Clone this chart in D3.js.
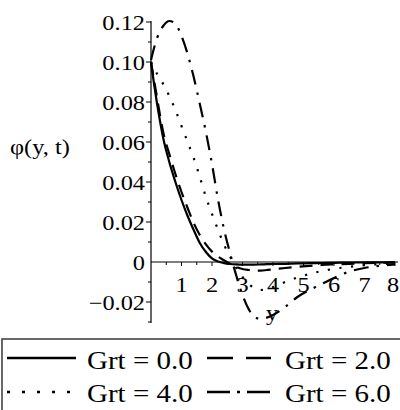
<!DOCTYPE html>
<html><head><meta charset="utf-8">
<script src="https://cdn.jsdelivr.net/npm/d3@7/dist/d3.min.js"></script>
<style>html,body{margin:0;padding:0;background:#fff;}svg{display:block;}</style>
</head><body>
<svg id="c" width="400" height="410"></svg>
<script>
const xs = [0,0.1,0.2,0.3,0.4,0.6,0.8,1.0,1.2,1.4,1.6,1.8,2.0,2.2,2.4,2.6,2.8,3.0,3.2,3.4,3.6,3.8,4.0,4.4,4.8,5.2,5.6,6.0,6.5,7.0,7.5,8.0];
const grt0 = [0.1,0.089,0.079,0.07,0.062,0.05,0.04,0.031,0.023,0.016,0.0095,0.005,0.0018,0.0002,-0.0006,-0.001,-0.0012,-0.0013,-0.0013,-0.0013,-0.0012,-0.0011,-0.001,-0.0009,-0.0007,-0.0006,-0.0005,-0.0004,-0.0003,-0.0002,-0.0002,-0.0001];
const grt2 = [0.1,0.091,0.082,0.073,0.065,0.054,0.044,0.035,0.027,0.0195,0.0135,0.0088,0.0052,0.0027,0.0008,-0.001,-0.0025,-0.0035,-0.004,-0.0043,-0.0043,-0.004,-0.0037,-0.003,-0.0024,-0.0019,-0.0015,-0.0012,-0.0009,-0.0006,-0.0004,-0.0003];
const grt4 = [0.1,0.097,0.094,0.0915,0.089,0.083,0.076,0.068,0.06,0.052,0.0425,0.0325,0.024,0.016,0.0085,0.0025,-0.003,-0.0075,-0.011,-0.013,-0.014,-0.0135,-0.0125,-0.01,-0.0078,-0.006,-0.0045,-0.0034,-0.0024,-0.0016,-0.0011,-0.0007];
const grt6 = [0.101,0.107,0.112,0.1155,0.118,0.1205,0.119,0.113,0.104,0.0925,0.079,0.065,0.049,0.031,0.016,0.004,-0.007,-0.0165,-0.0235,-0.0275,-0.0285,-0.0278,-0.0265,-0.0225,-0.0175,-0.014,-0.011,-0.008,-0.0048,-0.003,-0.0019,-0.0012];
const legendLabels = ["Grt = 0.0","Grt = 2.0","Grt = 4.0","Grt = 6.0"];
const xTicks = [1,2,3,4,5,6,7,8];
const yTicks = [-0.02,0,0.02,0.04,0.06,0.08,0.10,0.12];
const yTickLabels = ["\u22120.02","0","0.02","0.04","0.06","0.08","0.10","0.12"];

const svg = d3.select("#c");
const FONT = "'Liberation Serif','Times New Roman',serif";
const SX = 1.16;
const x = d3.scaleLinear().domain([0,8]).range([151,395]);
const y = d3.scaleLinear().domain([-0.0305,0.1205]).range([323,21]);

function txt(px,py,s,size,anchor,style){
  const g = svg.append("g").attr("transform",`translate(${px},${py}) scale(${SX},1)`);
  g.append("text").attr("x",0).attr("y",0).attr("font-family",FONT).attr("font-size",size)
   .attr("text-anchor",anchor).attr("font-style",style||"normal").attr("fill","#000").text(s);
}

// axes lines
svg.append("line").attr("x1",x(0)).attr("x2",398).attr("y1",y(0)).attr("y2",y(0)).attr("stroke","#000").attr("stroke-width",1.2);
svg.append("line").attr("x1",x(0)).attr("x2",x(0)).attr("y1",y.range()[1]).attr("y2",y.range()[0]).attr("stroke","#000").attr("stroke-width",1.2);

// x ticks (every 0.5)
d3.range(0.5,8.01,0.5).forEach(v=>{
  const major = Math.abs(v-Math.round(v))<1e-9;
  svg.append("line").attr("x1",x(v)).attr("x2",x(v)).attr("y1",y(0)).attr("y2",y(0)+(major?4:3)).attr("stroke","#000").attr("stroke-width",1);
});
xTicks.forEach(v=>txt(Math.min(x(v),393),292,String(v),21,"middle"));

// y ticks
d3.range(-0.03,0.1201,0.01).forEach(v=>{
  const k = Math.round(v*100);
  if (k===0) return;
  const major = k%2===0;
  svg.append("line").attr("x1",x(0)).attr("x2",x(0)-(major?5:3)).attr("y1",y(v)).attr("y2",y(v)).attr("stroke","#000").attr("stroke-width",1);
});
yTicks.forEach((v,i)=>txt(145,y(v)+7.5,yTickLabels[i],21,"end"));

// axis titles
txt(10,154,"φ(y, t)",21,"start");
txt(272,320,"y",21,"middle");

// curves
const series = [
  {vals:grt0, dash:null},
  {vals:grt2, dash:"13,8"},
  {vals:grt4, dash:"2.2,9.5"},
  {vals:grt6, dash:"15,8,2.5,8"}
];
const line = d3.line().x(d=>x(d[0])).y(d=>y(d[1])).curve(d3.curveMonotoneX);
series.forEach(s=>{
  svg.append("path").attr("d",line(xs.map((v,i)=>[v,s.vals[i]])))
    .attr("fill","none").attr("stroke","#000").attr("stroke-width",2.2)
    .attr("stroke-dasharray",s.dash);
});

// legend
svg.append("rect").attr("x",2).attr("y",339).attr("width",420).attr("height",100)
  .attr("fill","#fff").attr("stroke","#444").attr("stroke-width",1.6);
const legDash = [null,"26,13","3,12","23,7,3,7"];
const legPos = [[7,76,87,358,369],[207,271,285,358,369],[7,71,87,392,402],[207,271,285,392,402]];
legendLabels.forEach((lab,i)=>{
  const p = legPos[i];
  svg.append("line").attr("x1",p[0]).attr("x2",p[1]).attr("y1",p[3]).attr("y2",p[3])
    .attr("stroke","#000").attr("stroke-width",2.5).attr("stroke-dasharray",legDash[i]);
  txt(p[2],p[4],lab,25,"start");
});
</script>
</body></html>
